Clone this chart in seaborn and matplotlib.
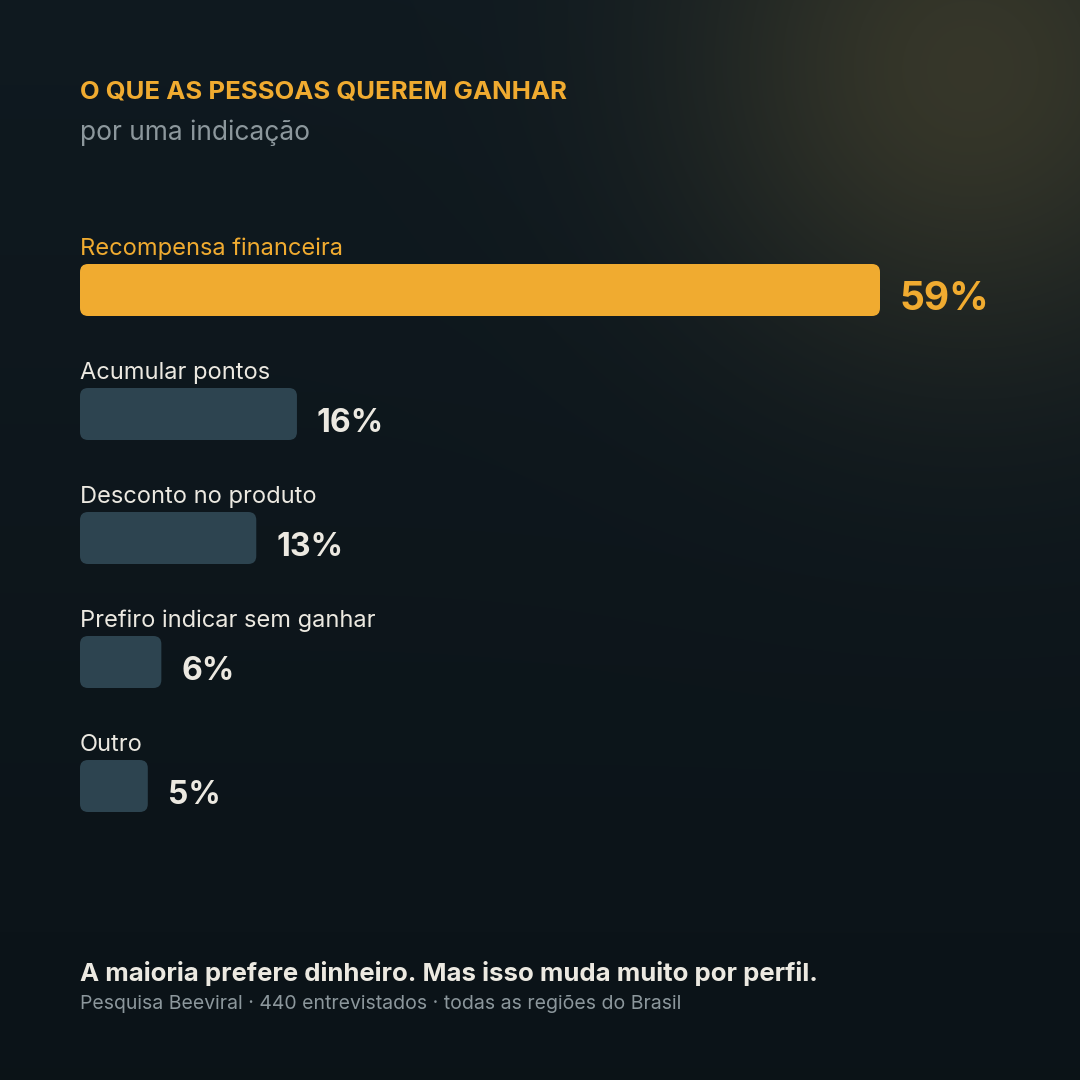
import numpy as np
import pandas as pd
import seaborn as sns
import matplotlib.pyplot as plt
from matplotlib.patches import FancyBboxPatch

categories = ["Recompensa financeira", "Acumular pontos", "Desconto no produto",
              "Prefiro indicar sem ganhar", "Outro"]
values = [59, 16, 13, 6, 5]
title = "O QUE AS PESSOAS QUEREM GANHAR"
subtitle = "por uma indicação"
footer = "A maioria prefere dinheiro. Mas isso muda muito por perfil."
source = "Pesquisa Beeviral · 440 entrevistados · todas as regiões do Brasil"

ORANGE = "#f0ab30"
GREY_BAR = "#2d4450"
LIGHT = "#ece9e1"
MUTED = "#8c979c"

plt.rcParams["font.family"] = ["Inter", "DejaVu Sans"]
fig = plt.figure(figsize=(10.8, 10.8), dpi=100)

# background with soft glow in the upper right
bg = fig.add_axes([0, 0, 1, 1])
yy, xx = np.mgrid[0:1080, 0:1080]
base = np.array([0.06, 0.10, 0.125])
glow = np.array([0.24, 0.235, 0.17])
d = np.sqrt((xx - 970) ** 2 + (yy - 70) ** 2)
w = (0.85 * np.exp(-(d / 280) ** 2))[..., None]
shade = (1 - yy / 1080 * 0.25)[..., None]
img = base * shade * (1 - w) + glow * w
bg.imshow(img, extent=[0, 1080, 1080, 0], aspect="auto")
bg.set_xlim(0, 1080)
bg.set_ylim(1080, 0)
bg.axis("off")

# bars: category i centred at 290 + 124*i px, 13.56 px per percent
px_per = 800 / 59
ax = fig.add_axes([80 / 1080, (1080 - 848) / 1080, 1000 / 1080, 620 / 1080])
df = pd.DataFrame({"cat": categories, "val": values})
sns.barplot(data=df, x="val", y="cat", orient="h", ax=ax, width=52 / 124,
            palette=[ORANGE] + [GREY_BAR] * 4, hue="cat", legend=False,
            saturation=1)
ax.set_xlim(0, 1000 / px_per)
ax.set_ylim(4.5, -0.5)
ax.axis("off")

rx = 8 / px_per
ry = 8 / 124
for p in list(ax.patches):
    x0, y0 = p.get_x(), p.get_y()
    wd, ht = p.get_width(), p.get_height()
    fc = p.get_facecolor()
    p.remove()
    ax.add_patch(FancyBboxPatch((x0, y0), wd, ht,
                                boxstyle=f"round,pad=0,rounding_size={rx}",
                                mutation_aspect=ry / rx, fc=fc, ec="none"))

for i, (c, v) in enumerate(zip(categories, values)):
    col = ORANGE if i == 0 else LIGHT
    ax.text(0, i - 0.24, c, color=col, fontsize=17, va="bottom", ha="left")
    ax.text(v + 20 / px_per, i + 0.08, f"{v}%", color=col, va="center", ha="left",
            fontsize=28 if i == 0 else 23, fontweight="bold")

bg.text(80, 92, title, color=ORANGE, fontsize=18.5, fontweight="bold", va="center")
bg.text(80, 133, subtitle, color=MUTED, fontsize=19, va="center")
bg.text(80, 973, footer, color=LIGHT, fontsize=18.5, fontweight="bold", va="center")
bg.text(80, 1004, source, color=MUTED, fontsize=14, va="center")

fig.savefig("out.png", dpi=100)
